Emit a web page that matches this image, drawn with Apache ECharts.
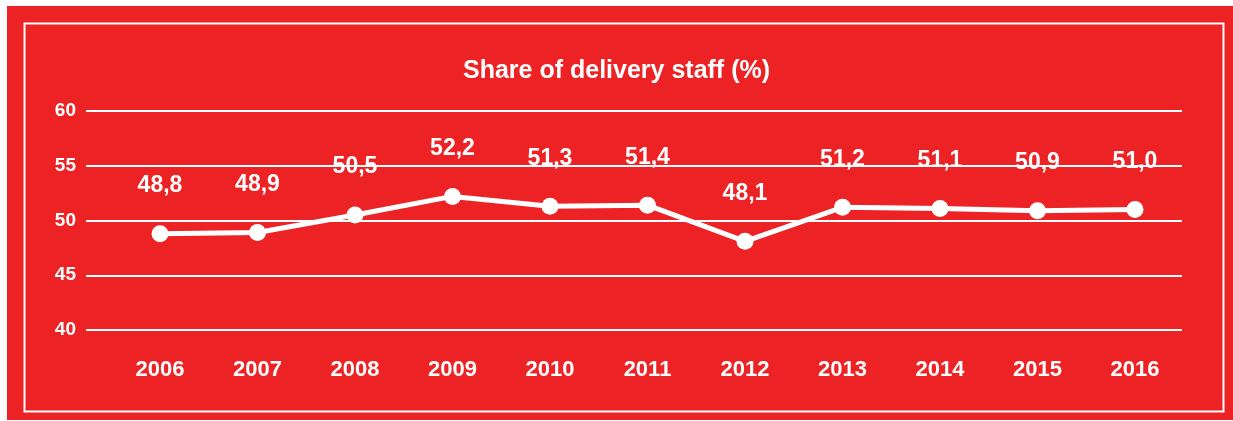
<!DOCTYPE html>
<html>
<head>
<meta charset="utf-8">
<script src="https://cdn.jsdelivr.net/npm/echarts@6/dist/echarts.min.js"></script>
<style>
html,body{margin:0;padding:0;background:#fff;}
#c{width:1233px;height:421px;}
</style>
</head>
<body>
<div id="c"></div>
<script>
const years = ['2006','2007','2008','2009','2010','2011','2012','2013','2014','2015','2016'];
const shareValues = [48.8, 48.9, 50.5, 52.2, 51.3, 51.4, 48.1, 51.2, 51.1, 50.9, 51.0];
const yTicks = [40, 45, 50, 55, 60];
const titleText = 'Share of delivery staff (%)';

const FONT = '"Liberation Sans", Arial, sans-serif';
const RED = '#ED2224';

const chart = echarts.init(document.getElementById('c'), null, {renderer: 'canvas'});
chart.setOption({
  backgroundColor: '#ffffff',
  animation: false,
  graphic: [
    {type: 'rect', left: 7, top: 6, shape: {width: 1226, height: 414}, style: {fill: RED}, z: -10},
    {type: 'rect', left: 22, top: 21, shape: {width: 1199, height: 388}, style: {fill: 'none', stroke: '#ffffff', lineWidth: 2}, z: -9}
  ],
  title: {
    text: titleText,
    left: 'center',
    top: 54,
    textStyle: {color: '#fff', fontFamily: FONT, fontWeight: 'bold', fontSize: 25}
  },
  grid: [
    {left: 86, right: 51, top: 111, bottom: 91},
    {left: 160, right: 98, top: 111, bottom: 91}
  ],
  xAxis: [
    {gridIndex: 0, type: 'category', data: years, show: false},
    {
      gridIndex: 1, type: 'category', data: years, boundaryGap: false,
      axisLine: {show: false}, axisTick: {show: false}, splitLine: {show: false},
      axisLabel: {color: '#fff', fontFamily: FONT, fontWeight: 'bold', fontSize: 22, margin: 29}
    }
  ],
  yAxis: [
    {
      gridIndex: 0, type: 'value', min: yTicks[0], max: yTicks[yTicks.length - 1], interval: 5,
      axisLine: {show: false}, axisTick: {show: false},
      splitLine: {lineStyle: {color: '#fff', width: 2}},
      axisLabel: {color: '#fff', fontFamily: FONT, fontWeight: 'bold', fontSize: 19, margin: 10}
    },
    {
      gridIndex: 1, type: 'value', min: yTicks[0], max: yTicks[yTicks.length - 1], interval: 5,
      show: false, splitLine: {show: false}
    }
  ],
  series: [{
    type: 'line',
    xAxisIndex: 1, yAxisIndex: 1,
    data: shareValues,
    symbol: 'circle',
    symbolSize: 17,
    lineStyle: {color: '#fff', width: 5},
    itemStyle: {color: '#fff'},
    label: {
      show: true, position: 'top', distance: 28,
      color: '#fff', fontFamily: FONT, fontWeight: 'bold', fontSize: 23,
      formatter: p => p.value.toFixed(1).replace('.', ',')
    }
  }]
});
</script>
</body>
</html>
